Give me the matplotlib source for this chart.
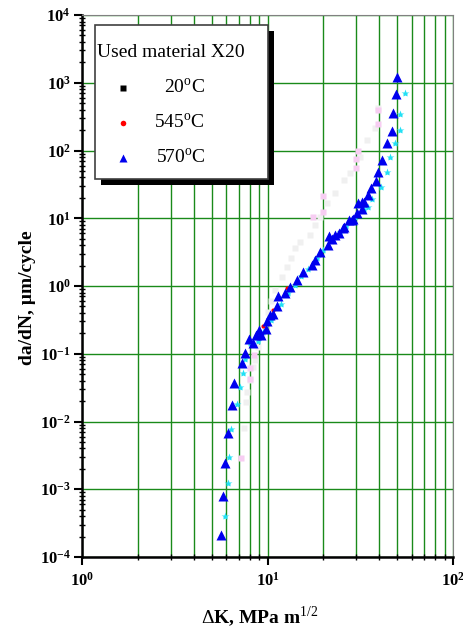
import math
import matplotlib
matplotlib.use("Agg")
import matplotlib.pyplot as plt
from matplotlib.ticker import LogLocator, FuncFormatter, NullFormatter
from matplotlib.patches import Rectangle

plt.rcParams['font.family'] = ['Liberation Serif', 'DejaVu Serif']
plt.rcParams['mathtext.fontset'] = 'custom'
plt.rcParams['mathtext.rm'] = 'Liberation Serif'
plt.rcParams['mathtext.bf'] = 'Liberation Serif:bold'

# 570°C - blue triangles
dk_570 = [5.62, 5.73, 5.90, 6.13, 6.41, 6.6, 7.31, 7.54, 7.92, 8.32, 8.67, 9.03, 9.26, 9.8,
          9.9, 10.3, 10.7, 11.3, 11.4, 12.4, 13.2, 14.4, 15.6, 17.3, 18.0, 19.2, 21.3, 21.5,
          22.3, 23.1, 24.3, 25.6, 25.8, 27.6, 28.4, 29.0, 30.3, 30.9, 32.2, 32.2, 33.3, 34.9,
          36.0, 38.3, 39.4, 41.6, 44.2, 46.9, 47.7, 49.3, 50.1]
da_570 = [2.1e-4, 7.9e-4, 2.4e-3, 6.8e-3, 0.0175, 0.037, 0.074, 0.104, 0.165, 0.145, 0.19,
          0.224, 0.19, 0.23, 0.30, 0.37, 0.39, 0.50, 0.70, 0.78, 0.98, 1.23, 1.63, 2.04, 2.42,
          3.2, 4.0, 5.4, 5.0, 5.7, 6.0, 7.1, 7.5, 9.4, 9.4, 9.6, 12, 16.6, 13.5, 17.6, 17.5,
          22, 27.6, 35, 48, 72, 130, 194, 360, 680, 1230]

# cyan stars (second run)
dk_cyan = [5.9, 6.1, 6.18, 6.38, 6.82, 7.1, 7.41, 7.6, 8.05, 8.92, 9.5, 10.5, 11.8, 12.9,
           14.0, 15.2, 16.5, 18.5, 20.0, 22.0, 24.5, 26.5, 29.5, 33.0, 34.7, 36.7, 40.7,
           43.9, 45.8, 48.5, 51.7, 52.0, 55.3]
da_cyan = [4e-4, 1.25e-3, 3e-3, 7.7e-3, 0.018, 0.032, 0.052, 0.085, 0.143, 0.156, 0.21,
           0.31, 0.55, 0.8, 1.05, 1.4, 1.8, 2.6, 3.4, 4.6, 6.3, 7.8, 10.5, 13.5, 14.8, 19,
           29, 48, 81, 130, 200, 346, 695]

# 20°C - faint squares
dk_20 = [7.47, 7.66, 7.73, 8.05, 8.38, 8.57, 8.9, 9.3, 9.7, 10.1, 10.5, 11.0, 11.9, 12.7,
         13.4, 14.1, 15.0, 16.9, 18.0, 19.2, 20.8, 23.1, 25.7, 27.9, 31.5, 34.3, 38.0, 39.6]
da_20 = [0.0081, 0.0195, 0.0276, 0.041, 0.064, 0.081, 0.127, 0.18, 0.26, 0.42, 0.6, 0.87,
         1.37, 1.93, 2.6, 3.6, 4.5, 5.7, 8.0, 10.5, 16.6, 23.4, 36.7, 46, 81, 143, 213, 425]

# faint pink run
dk_pink = [7.2, 8.05, 8.05, 8.5, 17.7, 20, 20, 30, 30, 30.9, 39.6, 39.6]
da_pink = [0.0029, 0.043, 0.061, 0.095, 10.5, 12.5, 21, 55, 76, 100, 250, 400]

# 545°C - red dots
dk_545 = [9.42, 10.7, 12.7]
da_545 = [0.257, 0.44, 0.92]

legend_title = "Used material X20"
legend_labels = ["20$^{\\rm o}$C", "545$^{\\rm o}$C", "570$^{\\rm o}$C"]
legend_markers = [('s', 'black', 4), ('o', 'red', 4), ('^', '#0000ee', 6)]

fig = plt.figure(figsize=(4.63, 6.31), dpi=100)
ax = fig.add_axes([82/463, 74/631, 371/463, 542/631])

ax.plot(dk_20, da_20, 's', color='#f0f0f0', ms=5, mec='none', zorder=3)
ax.plot(dk_pink, da_pink, 's', color='#f7cdf2', ms=4, mec='none', zorder=3)
ax.plot(dk_cyan, da_cyan, '*', color='#22e0f5', ms=6, mec='none', zorder=4)
ax.plot(dk_545, da_545, 'o', color='red', ms=3, mec='none', zorder=5)
ax.plot(dk_570, da_570, '^', color='#0000ee', ms=6.5, mec='none', zorder=6)

ax.set_xscale('log')
ax.set_yscale('log')
ax.set_xlim(1, 100)
ax.set_ylim(1e-4, 1e4)

ax.xaxis.set_major_locator(LogLocator(base=10, numticks=10))
ax.xaxis.set_minor_locator(LogLocator(base=10, subs=range(2, 10), numticks=20))
ax.yaxis.set_major_locator(LogLocator(base=10, numticks=20))
ax.yaxis.set_minor_locator(LogLocator(base=10, subs=range(2, 10), numticks=40))
fmt = FuncFormatter(lambda v, p: r'$\mathbf{10^{%d}}$' % round(math.log10(v)))
ax.xaxis.set_major_formatter(fmt)
ax.yaxis.set_major_formatter(fmt)
ax.xaxis.set_minor_formatter(NullFormatter())
ax.yaxis.set_minor_formatter(NullFormatter())

ax.grid(which='both', axis='x', color='#1a8a1a', lw=1.0)
ax.grid(which='major', axis='y', color='#1a8a1a', lw=1.0)
ax.set_axisbelow(True)

ax.tick_params(which='major', direction='out', length=6, width=1.5, labelsize=12)
ax.tick_params(axis='y', which='major', pad=2)
ax.tick_params(axis='x', which='major', pad=5)
ax.tick_params(which='minor', direction='inout', length=4, width=1)
for s in ['left', 'bottom']:
    ax.spines[s].set_linewidth(1.8)
for s in ['top', 'right']:
    ax.spines[s].set_color('#808080')

ax.set_xlabel(r'$\Delta$K, MPa m$^{1/2}$', fontsize=14, fontweight='bold')
ax.set_ylabel(u'da/dN, \u00b5m/cycle', fontsize=14, fontweight='bold')
ax.xaxis.set_label_coords(0.48, -0.088)
ax.yaxis.set_label_coords(-0.125, 0.478)

# legend box with black drop shadow
px, py = 1/371, 1/542
ax.add_patch(Rectangle((0.035 + 6*px, 0.697 - 6*py), 0.466, 0.2845, transform=ax.transAxes,
                       facecolor='black', edgecolor='none', zorder=9, clip_on=False))
ax.add_patch(Rectangle((0.035, 0.697), 0.466, 0.2845, transform=ax.transAxes,
                       facecolor='white', edgecolor='#404040', lw=1.2, zorder=10, clip_on=False))
ax.text(0.041, 0.930, legend_title, transform=ax.transAxes, fontsize=14,
        ha='left', va='center', zorder=11)
for i, (lab, (mk, col, ms)) in enumerate(zip(legend_labels, legend_markers)):
    yy = 0.866 - i*0.0645
    ax.plot([0.1105], [yy], mk, color=col, ms=ms, mec='none', transform=ax.transAxes,
            zorder=11, clip_on=False)
    ax.text(0.332, yy, lab, transform=ax.transAxes, fontsize=14, ha='right',
            va='center', zorder=11)

fig.savefig('out.png', dpi=100)
